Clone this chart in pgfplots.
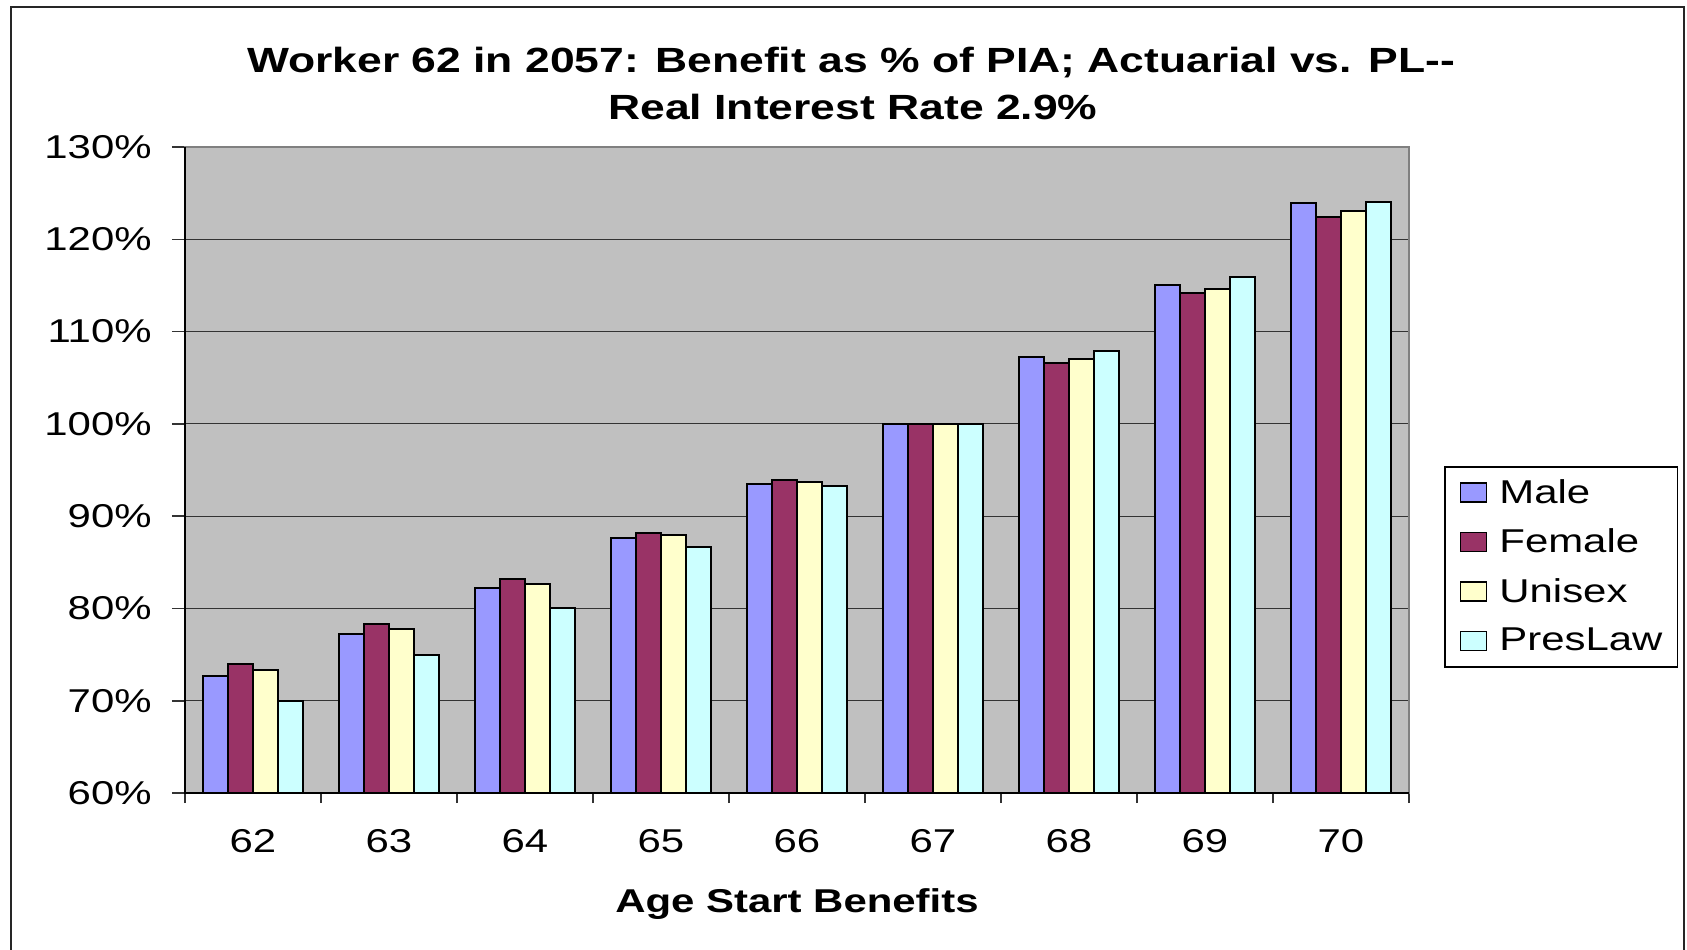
\documentclass[border=0pt]{standalone}
\usepackage{fontspec}
\setmainfont{Liberation Sans}[FakeStretch=1.27]
\usepackage{pgfplots}
\pgfplotsset{compat=1.18}
\definecolor{cMale}{HTML}{9999FF}
\definecolor{cFemale}{HTML}{993366}
\definecolor{cUnisex}{HTML}{FFFFCC}
\definecolor{cPres}{HTML}{CCFFFF}
\definecolor{bgGray}{HTML}{C0C0C0}
\begin{document}
\begin{tikzpicture}
\useasboundingbox (0,0) rectangle (843.5pt,-474.5pt);
\draw[line width=1pt, black!85] (5.5pt,-480pt) -- (5.5pt,-3.35pt) -- (842pt,-3.35pt) -- (842pt,-480pt);
\node[anchor=base, inner sep=0pt, font=\fontsize{17.5}{21}\selectfont\bfseries] at (425.5pt,-36pt) {Worker 62 in 2057: Benefit as \% of PIA; Actuarial vs. PL-{}-};
\node[anchor=base, inner sep=0pt, font=\fontsize{17.5}{21}\selectfont\bfseries] at (426.5pt,-59.5pt) {Real Interest Rate 2.9\%};
\begin{axis}[
  name=ax,
  at={(92.5pt,-396.5pt)}, anchor=south west,
  scale only axis, width=612pt, height=323pt,
  xmin=-0.5, xmax=8.5, ymin=60, ymax=130,
  ybar=0pt, bar width=12.5pt,
  axis background/.style={fill=bgGray},
  axis line style={black!50, line width=0.8pt},
  xtick pos=bottom, ytick pos=left,
  xtick={0,1,2,3,4,5,6,7,8},
  xticklabels={62,63,64,65,66,67,68,69,70},
  minor xtick={-0.5,0.5,1.5,2.5,3.5,4.5,5.5,6.5,7.5,8.5},
  major x tick style={draw=none},
  tick align=outside, minor tick length=5pt, major tick length=6.5pt,
  tick style={black!80, line width=0.8pt},
  ytick={60,70,80,90,100,110,120,130},
  yticklabels={60\%,70\%,80\%,90\%,100\%,110\%,120\%,130\%},
  ymajorgrids, major grid style={black!80, line width=0.6pt},
  tick label style={font=\fontsize{16.5}{19.8}\selectfont},
  yticklabel style={anchor=east, inner sep=0pt, xshift=-10pt},
  xticklabel style={anchor=base, inner sep=0pt, yshift=-23.3pt},
  xlabel={\bfseries Age Start Benefits},
  xlabel style={at={(axis description cs:0.5,0)}, anchor=base, inner sep=0pt, yshift=-59.8pt, font=\fontsize{16.5}{19.8}\selectfont},
  legend style={at={(1.0286,0.5062)}, anchor=north west, draw=black, line width=0.8pt, fill=white,
    font=\fontsize{16.5}{19.8}\selectfont, inner xsep=7.5pt, inner ysep=0.5pt, row sep=0pt, column sep=6pt,
    nodes={inner sep=0pt, minimum height=24.75pt}},
  legend cell align=left,
  legend image code/.code={\draw[#1, draw=black, line width=0.8pt] (0pt,-4.75pt) rectangle (13pt,4.75pt);},
  every axis plot/.append style={draw=black, line width=1pt},
]
\addplot[fill=cMale] coordinates {(0,72.7) (1,77.2) (2,82.2) (3,87.6) (4,93.5) (5,100) (6,107.2) (7,115.1) (8,123.9)};
\addplot[fill=cFemale] coordinates {(0,74.0) (1,78.3) (2,83.2) (3,88.2) (4,93.9) (5,100) (6,106.6) (7,114.2) (8,122.4)};
\addplot[fill=cUnisex] coordinates {(0,73.3) (1,77.8) (2,82.6) (3,88.0) (4,93.7) (5,100) (6,107.0) (7,114.6) (8,123.1)};
\addplot[fill=cPres] coordinates {(0,70.0) (1,75.0) (2,80.0) (3,86.7) (4,93.3) (5,100) (6,107.9) (7,115.9) (8,124.0)};
\legend{Male,Female,Unisex,PresLaw}
\end{axis}
\draw[black, line width=0.8pt] (ax.north west) -- (ax.south west) -- (ax.south east);
\end{tikzpicture}
\end{document}
